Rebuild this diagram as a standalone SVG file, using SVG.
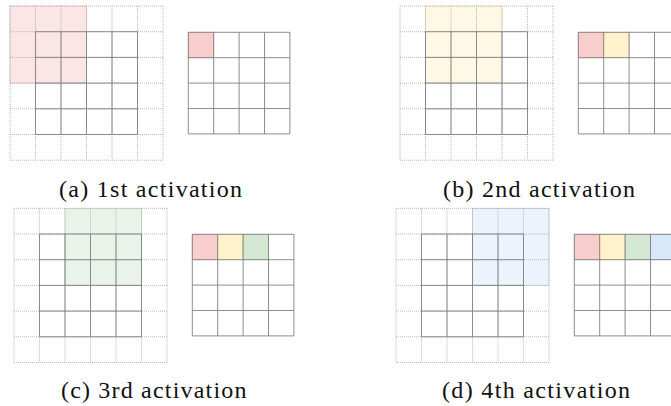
<svg xmlns="http://www.w3.org/2000/svg" xmlns:xlink="http://www.w3.org/1999/xlink" width="671" height="406" viewBox="0 0 671 406">
<style>
.dot{fill:none;stroke:#a6a6a6;stroke-width:0.8;stroke-dasharray:1 1}
.sol{fill:none;stroke:#808080;stroke-width:0.9}
.cap{font-family:"Liberation Serif","Times New Roman",serif;font-size:24px;fill:#111;text-anchor:middle}
.pk{fill:#f8cecc;stroke:#b85450;stroke-opacity:0.35}
.yl{fill:#fff2cc;stroke:#d6b656;stroke-opacity:0.45}
.gr{fill:#d5e8d4;stroke:#82b366;stroke-opacity:0.45}
.bl{fill:#dae8fc;stroke:#6c8ebf;stroke-opacity:0.45}
.big{fill-opacity:0.5;stroke-width:0.6}
.sm{stroke-width:0.8}
</style>
<defs>
<g id="large">
<path class="dot" d="M0 0V154.2M25.5 0V154.2M51 0V154.2M76.5 0V154.2M102 0V154.2M127.5 0V154.2M153 0V154.2M0 0H153M0 25.7H153M0 51.4H153M0 77.1H153M0 102.8H153M0 128.5H153M0 154.2H153"/>
<path class="sol" d="M25.5 25.7V128.5M51 25.7V128.5M76.5 25.7V128.5M102 25.7V128.5M127.5 25.7V128.5M25.5 25.7H127.5M25.5 51.4H127.5M25.5 77.1H127.5M25.5 102.8H127.5M25.5 128.5H127.5"/>
</g>
<g id="small">
<path class="sol" d="M0 0V101.6M25.4 0V101.6M50.8 0V101.6M76.2 0V101.6M101.6 0V101.6M0 0H101.6M0 25.4H101.6M0 50.8H101.6M0 76.2H101.6M0 101.6H101.6"/>
</g>
</defs>
<g id="panel-a">
<g transform="translate(10,6)">
<rect class="pk big" x="0" y="0" width="76.5" height="77.1"/>
<use xlink:href="#large"/>
</g>
<g transform="translate(188.3,32.3)">
<rect class="pk sm" x="0" y="0" width="25.4" height="25.4"/>
<use xlink:href="#small"/>
</g>
<text class="cap" x="150.5" y="196.5" textLength="183" lengthAdjust="spacing">(a) 1st activation</text>
</g>
<g id="panel-b">
<g transform="translate(400,6)">
<rect class="yl big" x="25.5" y="0" width="76.5" height="77.1"/>
<use xlink:href="#large"/>
</g>
<g transform="translate(578.3,32.3)">
<rect class="pk sm" x="0" y="0" width="25.4" height="25.4"/>
<rect class="yl sm" x="25.4" y="0" width="25.4" height="25.4"/>
<use xlink:href="#small"/>
</g>
<text class="cap" x="539" y="196.5" textLength="192" lengthAdjust="spacing">(b) 2nd activation</text>
</g>
<g id="panel-c">
<g transform="translate(14,208.3)">
<rect class="gr big" x="51" y="0" width="76.5" height="77.1"/>
<use xlink:href="#large"/>
</g>
<g transform="translate(192.3,234.3)">
<rect class="pk sm" x="0" y="0" width="25.4" height="25.4"/>
<rect class="yl sm" x="25.4" y="0" width="25.4" height="25.4"/>
<rect class="gr sm" x="50.8" y="0" width="25.4" height="25.4"/>
<use xlink:href="#small"/>
</g>
<text class="cap" x="153.7" y="398" textLength="185.5" lengthAdjust="spacing">(c) 3rd activation</text>
</g>
<g id="panel-d">
<g transform="translate(396,208.3)">
<rect class="bl big" x="76.5" y="0" width="76.5" height="77.1"/>
<use xlink:href="#large"/>
</g>
<g transform="translate(574.3,234.3)">
<rect class="pk sm" x="0" y="0" width="25.4" height="25.4"/>
<rect class="yl sm" x="25.4" y="0" width="25.4" height="25.4"/>
<rect class="gr sm" x="50.8" y="0" width="25.4" height="25.4"/>
<rect class="bl sm" x="76.2" y="0" width="25.4" height="25.4"/>
<use xlink:href="#small"/>
</g>
<text class="cap" x="536" y="398" textLength="188" lengthAdjust="spacing">(d) 4th activation</text>
</g>
</svg>
